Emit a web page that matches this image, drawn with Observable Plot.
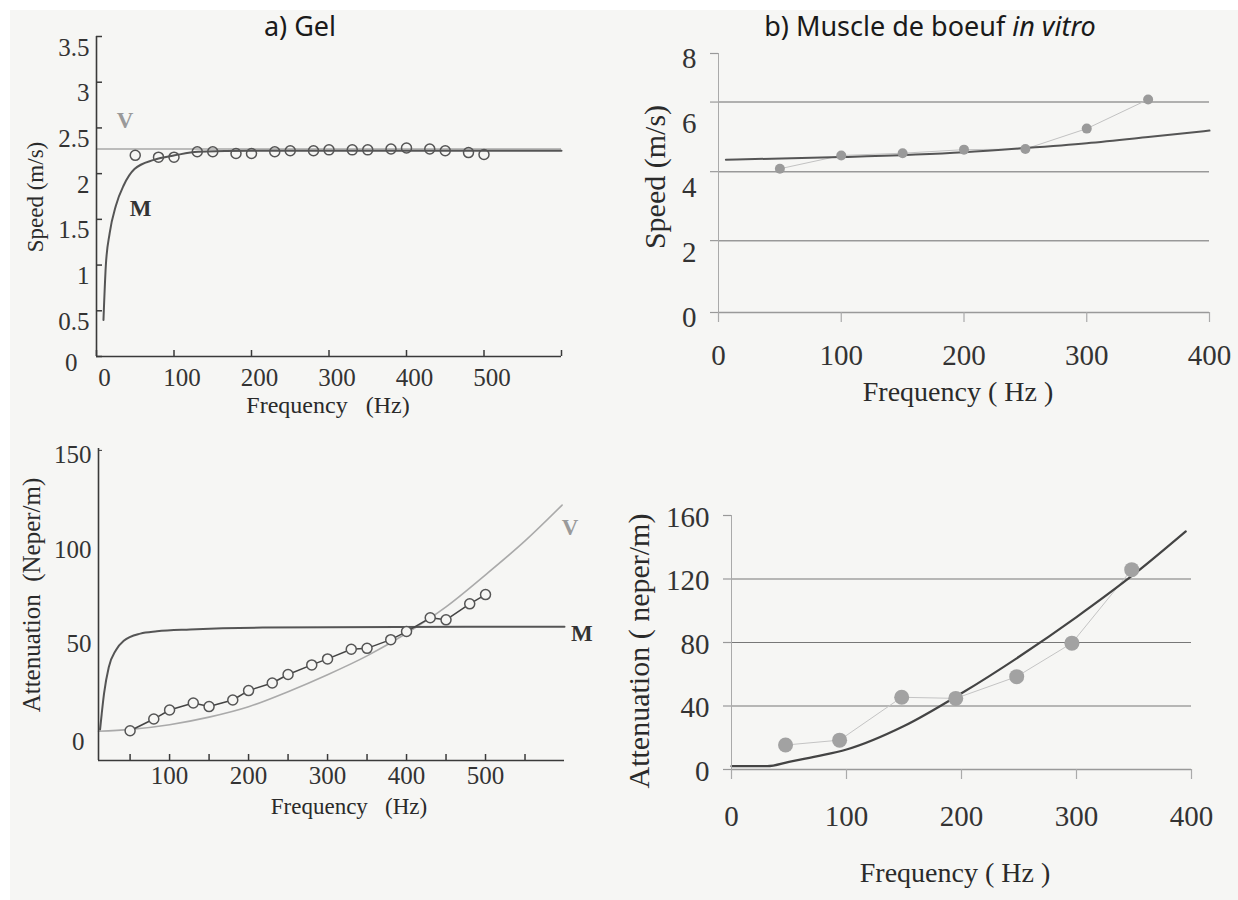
<!DOCTYPE html>
<html><head><meta charset="utf-8">
<script src="https://cdn.jsdelivr.net/npm/d3@7"></script>
<script src="https://cdn.jsdelivr.net/npm/@observablehq/plot@0.6"></script>
<style>
body{margin:0;background:#fff;}
#wrap{position:relative;width:1238px;height:900px;background:#fff;overflow:hidden}
#bg{position:absolute;left:10px;top:10px;right:0;bottom:0;background:#f6f6f4}
.lbl{position:absolute;white-space:nowrap;line-height:1;color:#2a2a2a;font-family:'Liberation Serif',serif}
.ttl{position:absolute;white-space:nowrap;line-height:1;color:#1a1a1a;font-family:'Noto Sans',sans-serif}
</style></head>
<body><div id="wrap"><div id="bg"></div></div>
<script>
// ---------- data: a) Gel ----------
const gelFreq = [50,80,100,130,150,180,200,230,250,280,300,330,350,380,400,430,450,480,500];
const gelSpeed = [2.20,2.18,2.18,2.24,2.24,2.22,2.22,2.24,2.25,2.25,2.26,2.26,2.26,2.27,2.28,2.27,2.25,2.23,2.21];
const gelAtten = [1.3,7.5,12.3,16.0,14.1,17.6,22.6,26.6,31.1,36.2,39.4,44.5,45.0,49.6,53.9,61.2,60.1,68.6,73.5];
const gelSpeedV = 2.27;
const gelSpeedMFreq = [9,12,17,25,35,49,74,101,131,200,600];
const gelSpeedM = [0.40,0.99,1.35,1.65,1.87,2.05,2.15,2.20,2.24,2.25,2.25];
const gelAttenVFreq = [10,50,100,150,200,250,300,350,400,450,500,550,597];
const gelAttenV = [1,2,4.5,8.5,14,22,31,41,53,67,84,102,121];
const gelAttenMFreq = [12,14,17,23,32,42,63,84,126,218,600];
const gelAttenM = [2,10,21,35,44,49,52.8,54,55,56,56.5];
const gelSpeedTicks = [0,0.5,1,1.5,2,2.5,3,3.5];
const gelSpeedLabelTicks = [0.5,1,1.5,2,2.5,3,3.5];
const gelAttenTicks = [50,100,150];
const gelFreqTickLabels = [0,100,200,300,400,500];
const gelFreqTicksTop = [0,100,200,300,400,500,600];
const gelFreqTicksBottom = [50,100,150,200,250,300,350,400,450,500,550];
const gelFreqLabelsBottom = [100,200,300,400,500];
// ---------- data: b) Muscle ----------
const musFreq = [50,100,150,200,250,300,350];
const musSpeed = [4.44,4.85,4.92,5.03,5.05,5.68,6.58];
const musSpeedModelFreq = [6,100,200,250,300,350,400];
const musSpeedModel = [4.72,4.80,4.95,5.08,5.23,5.42,5.62];
const musSpeedGrid = [2.22,4.35,6.5];
const musSpeedTickMarks = [0,2.22,4.35,6.5,8];
const musSpeedTickLabels = [0,2,4,6,8];
const musAttFreq = [47,94,148,195,248,296,348];
const musAtt = [15.4,18.5,45.5,44.8,58.5,79.6,125.9];
const musAttModelFreq = [0,31,50,75,100,150,200,250,300,350,395];
const musAttModel = [2.1,2.1,4.8,8.4,12.6,27.4,48,71,96,123,150];
const musAttGrid = [40,80,120];
const musAttTicks = [0,40,80,120,160];
const musFreqTicks = [0,100,200,300,400];
// curve labels
const gelSpeedLabels = [{f:37,v:2.58,t:"V",c:"#9a9a9a"},{f:57,v:1.62,t:"M",c:"#333"}];
const gelAttenLabels = [{f:607,v:109,t:"V",c:"#9a9a9a"},{f:622,v:53,t:"M",c:"#333"}];

const serif = "'Liberation Serif', serif";
const zip = (xs, ys, kx, ky) => xs.map((x,i)=>({[kx]:x,[ky]:ys[i]}));
const wrap = document.getElementById("wrap");
function put(node, left, top){ node.style.position="absolute"; node.style.left=left+"px"; node.style.top=top+"px"; wrap.appendChild(node); }
function label(text, cx, cy, size, rotate, cls="lbl", html=false){
  const d=document.createElement("div"); d.className=cls;
  if (html) d.innerHTML=text; else d.textContent=text;
  d.style.fontSize=size+"px"; d.style.left=cx+"px"; d.style.top=cy+"px";
  d.style.transform="translate(-50%,-50%)"+(rotate?" rotate(-90deg)":"");
  wrap.appendChild(d);
}
const A = 25, B = 29; // tick-label font sizes

// ---------- a) top: speed ----------
const gelPts = gelFreq.map((f,i)=>({f, speed:gelSpeed[i], att:gelAtten[i]}));
const aTop = Plot.plot({
  width:600, height:420, marginLeft:96, marginRight:39, marginTop:36, marginBottom:64,
  style:{background:"transparent", fontFamily:serif, overflow:"visible"},
  x:{domain:[0,600]}, y:{domain:[0,3.5]},
  marks:[
    Plot.ruleY([gelSpeedV], {stroke:"#a9a9a9", strokeWidth:1.5}),
    Plot.line(zip(gelSpeedMFreq, gelSpeedM, "f","v"), {x:"f", y:"v", stroke:"#555", strokeWidth:2, curve:"monotone-x"}),
    Plot.dot(gelPts, {x:"f", y:"speed", r:5, stroke:"#555", strokeWidth:1.5, fill:"none"}),
    Plot.ruleX([0], {stroke:"#3a3a3a", strokeWidth:1.6}),
    Plot.ruleY([0], {stroke:"#3a3a3a", strokeWidth:1.6}),
    Plot.axisY(gelSpeedTicks, {tickSize:-6, fill:"none", stroke:"#3a3a3a", strokeWidth:1.5, label:null}),
    Plot.axisY(gelSpeedLabelTicks, {tickSize:0, tickPadding:7, dy:11, fontSize:A, fill:"#333", label:null, tickFormat:d=>String(d)}),
    Plot.axisY([0], {tickSize:0, tickPadding:19, dy:6, fontSize:A, fill:"#333", label:null, tickFormat:d=>String(d)}),
    Plot.axisX(gelFreqTicksTop, {tickSize:-6, fill:"none", stroke:"#3a3a3a", strokeWidth:1.5, label:null}),
    Plot.axisX(gelFreqTickLabels, {tickSize:0, tickPadding:12, dx:8, fontSize:A, fill:"#333", label:null, tickFormat:d=>String(d)}),
    Plot.text(gelSpeedLabels, {x:"f", y:"v", text:"t", fill:"c", fontWeight:"bold", fontSize:23})
  ]
});
put(aTop, 0, 0);

// ---------- a) bottom: attenuation ----------
const aBot = Plot.plot({
  width:600, height:400, marginLeft:98, marginRight:36, marginTop:28, marginBottom:60,
  style:{background:"transparent", fontFamily:serif, overflow:"visible"},
  x:{domain:[10,600]}, y:{domain:[-14.5,151]},
  marks:[
    Plot.line(zip(gelAttenVFreq, gelAttenV, "f","v"), {x:"f", y:"v", stroke:"#aaa", strokeWidth:1.6, curve:"monotone-x"}),
    Plot.line(zip(gelAttenMFreq, gelAttenM, "f","v"), {x:"f", y:"v", stroke:"#555", strokeWidth:2, curve:"monotone-x"}),
    Plot.line(gelPts, {x:"f", y:"att", stroke:"#444", strokeWidth:1.5}),
    Plot.dot(gelPts, {x:"f", y:"att", r:5, stroke:"#555", strokeWidth:1.5, fill:"#f6f6f4"}),
    Plot.ruleX([10], {stroke:"#3a3a3a", strokeWidth:1.6}),
    Plot.ruleY([-14.5], {stroke:"#3a3a3a", strokeWidth:1.6}),
    Plot.axisY([150], {tickSize:-4, fill:"none", stroke:"#3a3a3a", label:null}),
    Plot.axisY(gelAttenTicks, {tickSize:0, tickPadding:7, dy:5, fontSize:A, fill:"#333", label:null, tickFormat:d=>String(d)}),
    Plot.axisY([0], {tickSize:0, tickPadding:14, dy:9, fontSize:A, fill:"#333", label:null, tickFormat:d=>String(d)}),
    Plot.axisX(gelFreqTicksBottom, {tickSize:-6, fill:"none", stroke:"#3a3a3a", strokeWidth:1.5, label:null}),
    Plot.axisX(gelFreqLabelsBottom, {tickSize:0, tickPadding:6, fontSize:A, fill:"#333", label:null, tickFormat:d=>String(d)}),
    Plot.text(gelAttenLabels, {x:"f", y:"v", text:"t", fill:"c", fontWeight:"bold", fontSize:23})
  ]
});
put(aBot, 0, 420);

// ---------- b) top: speed ----------
const musPts = musFreq.map((f,i)=>({f, v:musSpeed[i]}));
const bTop = Plot.plot({
  width:638, height:420, marginLeft:118, marginRight:29, marginTop:53, marginBottom:108,
  style:{background:"transparent", fontFamily:serif, overflow:"visible"},
  x:{domain:[0,400]}, y:{domain:[0,8]},
  marks:[
    Plot.ruleY(musSpeedGrid, {stroke:"#999", strokeWidth:1.5}),
    Plot.line(musPts, {x:"f", y:"v", stroke:"#c2c2c2", strokeWidth:1}),
    Plot.line(zip(musSpeedModelFreq, musSpeedModel, "f","v"), {x:"f", y:"v", stroke:"#555", strokeWidth:2, curve:"monotone-x"}),
    Plot.dot(musPts, {x:"f", y:"v", r:5, fill:"#9a9a9a"}),
    Plot.ruleX([0], {stroke:"#aaa", strokeWidth:1}),
    Plot.ruleY([0], {stroke:"#999", strokeWidth:1.5}),
    Plot.axisY(musSpeedTickMarks, {tickSize:8, fill:"none", stroke:"#999", strokeWidth:1.2, label:null}),
    Plot.axisY(musSpeedTickLabels, {tickSize:0, tickPadding:22, dy:5, fontSize:B, fill:"#333", label:null, tickFormat:d=>String(d)}),
    Plot.axisX(musFreqTicks, {tickSize:10, fill:"none", stroke:"#aaa", strokeWidth:1.2, label:null}),
    Plot.axisX(musFreqTicks, {tickSize:0, tickPadding:32, fontSize:B, fill:"#333", label:null, tickFormat:d=>String(d)})
  ]
});
put(bTop, 600, 0);

// ---------- b) bottom: attenuation ----------
const musAttPts = musAttFreq.map((f,i)=>({f, v:musAtt[i]}));
const bBot = Plot.plot({
  width:638, height:480, marginLeft:131, marginRight:47, marginTop:95, marginBottom:131,
  style:{background:"transparent", fontFamily:serif, overflow:"visible"},
  x:{domain:[0,400]}, y:{domain:[0,160]},
  marks:[
    Plot.ruleY(musAttGrid, {stroke:"#777", strokeWidth:1.2}),
    Plot.line(musAttPts, {x:"f", y:"v", stroke:"#c4c4c4", strokeWidth:1}),
    Plot.line(zip(musAttModelFreq, musAttModel, "f","v"), {x:"f", y:"v", stroke:"#444", strokeWidth:2.2, curve:"monotone-x"}),
    Plot.dot(musAttPts, {x:"f", y:"v", r:7.5, fill:"#a2a2a2"}),
    Plot.ruleX([0], {stroke:"#aaa", strokeWidth:1}),
    Plot.ruleY([0], {stroke:"#999", strokeWidth:1.5}),
    Plot.axisY(musAttTicks, {tickSize:8, fill:"none", stroke:"#999", strokeWidth:1.2, label:null}),
    Plot.axisY(musAttTicks, {tickSize:0, tickPadding:22, dy:2, fontSize:B, fill:"#333", label:null, tickFormat:d=>String(d)}),
    Plot.axisX(musFreqTicks, {tickSize:10, fill:"none", stroke:"#aaa", strokeWidth:1.2, label:null}),
    Plot.axisX(musFreqTicks, {tickSize:0, tickPadding:36, fontSize:B, fill:"#333", label:null, tickFormat:d=>String(d)})
  ]
});
put(bBot, 600, 420);

// ---------- titles and axis titles ----------
label("a) Gel", 300, 25, 27, false, "ttl");
label("b) Muscle de boeuf <i>in vitro</i>", 930, 25, 27, false, "ttl", true);
label("Speed (m/s)", 35, 197, 23, true);
label("Frequency\u00a0\u00a0\u00a0(Hz)", 328, 405, 24, false);
label("Attenuation\u00a0\u00a0(Neper/m)", 31, 595, 25, true);
label("Frequency\u00a0\u00a0\u00a0(Hz)", 349, 806, 23, false);
label("Speed (m/s)", 655, 177, 30, true);
label("Frequency ( Hz )", 958, 392, 28, false);
label("Attenuation ( neper/m)", 639, 651, 30, true);
label("Frequency ( Hz )", 955, 873, 28, false);
</script>
</body></html>
